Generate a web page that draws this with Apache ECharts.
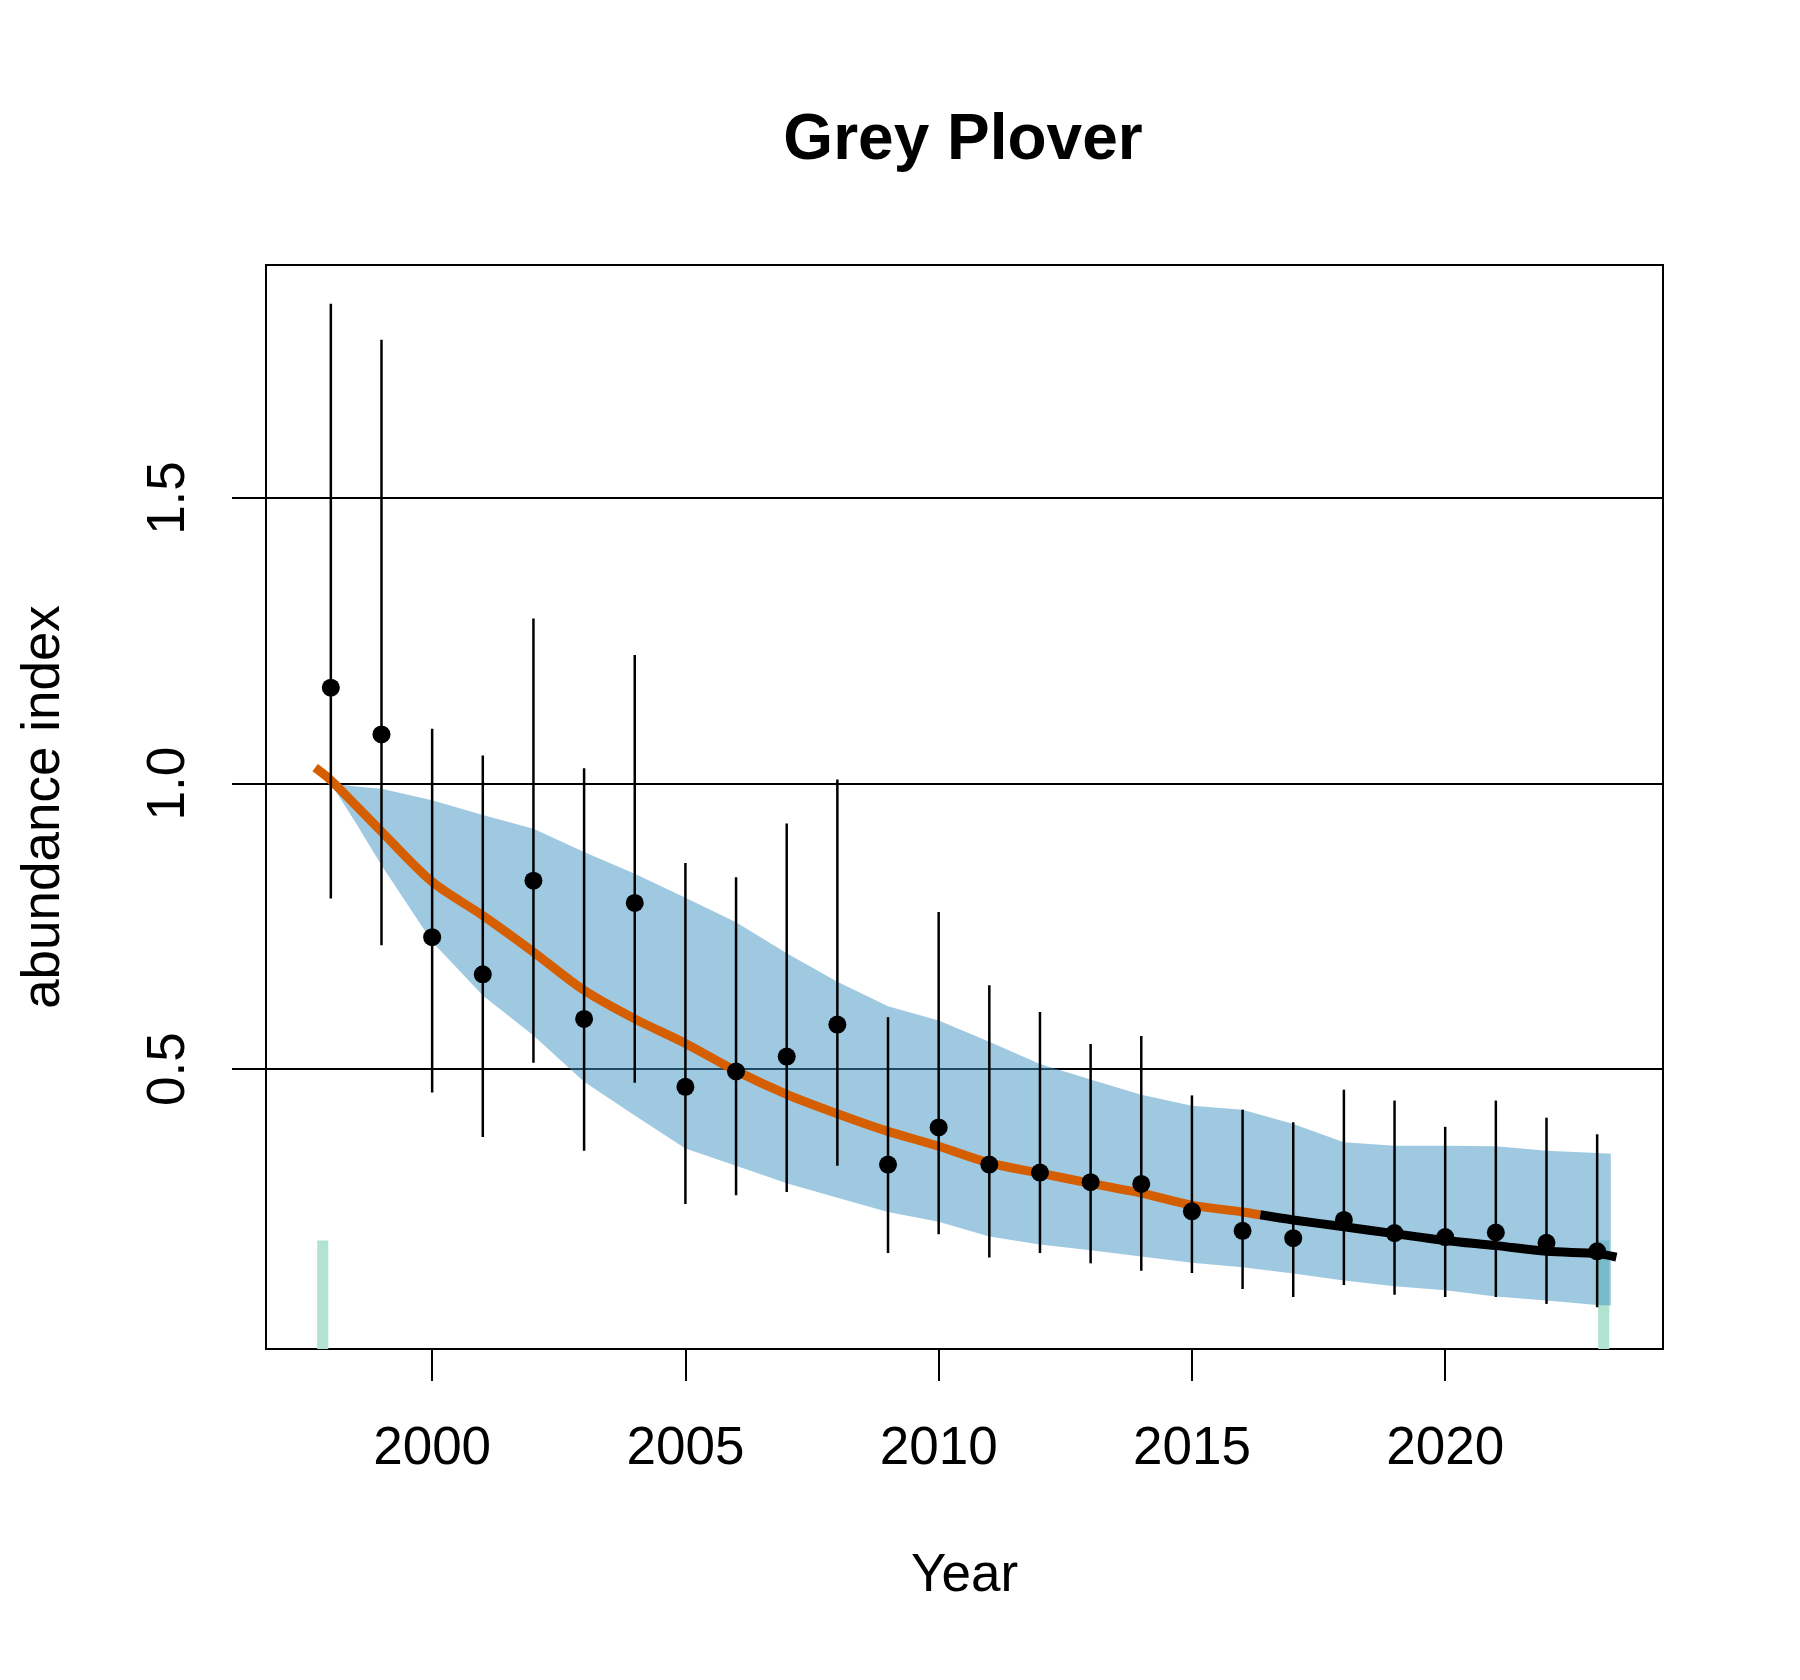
<!DOCTYPE html>
<html>
<head>
<meta charset="utf-8">
<script src="https://cdn.jsdelivr.net/npm/echarts@6/dist/echarts.min.js"></script>
<style>
  html, body { margin: 0; padding: 0; background: #fff; }
  #chart { width: 1800px; height: 1680px; }
</style>
</head>
<body>
<div id="chart"></div>
<script>
// yearly index with confidence limits (black dots + error bars)
const years = [1998, 1999, 2000, 2001, 2002, 2003, 2004, 2005, 2006, 2007, 2008, 2009, 2010,
               2011, 2012, 2013, 2014, 2015, 2016, 2017, 2018, 2019, 2020, 2021, 2022, 2023];
const index = [1.168, 1.086, 0.731, 0.666, 0.830, 0.588, 0.791, 0.469, 0.496, 0.522, 0.578, 0.333, 0.398,
               0.333, 0.319, 0.302, 0.299, 0.251, 0.217, 0.204, 0.236, 0.213, 0.206, 0.214, 0.196, 0.181];
const errLow = [0.799, 0.717, 0.459, 0.381, 0.511, 0.357, 0.476, 0.264, 0.279, 0.285, 0.331, 0.178, 0.211,
                0.170, 0.178, 0.160, 0.147, 0.143, 0.115, 0.101, 0.122, 0.105, 0.101, 0.101, 0.089, 0.083];
const errHigh = [1.840, 1.777, 1.096, 1.049, 1.289, 1.027, 1.225, 0.861, 0.836, 0.930, 1.007, 0.591, 0.775,
                 0.647, 0.600, 0.544, 0.558, 0.454, 0.429, 0.407, 0.464, 0.445, 0.399, 0.445, 0.415, 0.386];

// smoothed trend envelope (blue band)
const bandYears = [1997.72, 1998, 1998.5, 1999, 2000, 2001, 2002, 2003, 2004, 2005, 2006, 2007, 2008, 2009,
                   2010, 2011, 2012, 2013, 2014, 2015, 2016, 2017, 2018, 2019, 2020, 2021, 2022, 2023, 2023.27];
const bandUpper = [1.04, 1.00, 0.995, 0.991, 0.971, 0.945, 0.921, 0.880, 0.842, 0.800, 0.757, 0.703, 0.653, 0.610,
                   0.585, 0.548, 0.509, 0.482, 0.455, 0.436, 0.429, 0.404, 0.372, 0.366, 0.366, 0.365, 0.357, 0.353, 0.352];
const bandLower = [1.04, 1.00, 0.93, 0.857, 0.723, 0.629, 0.559, 0.478, 0.419, 0.361, 0.331, 0.300, 0.275, 0.250,
                   0.233, 0.207, 0.193, 0.183, 0.172, 0.161, 0.153, 0.142, 0.130, 0.120, 0.113, 0.102, 0.095, 0.087, 0.086];

// smoothed trend: orange part, then black part
const trendYearsA = [1997.69, 1998, 1999, 2000, 2001, 2002, 2003, 2004, 2005, 2006, 2007, 2008, 2009,
                     2010, 2011, 2012, 2013, 2014, 2015, 2016, 2016.35];
const trendA = [1.028, 1.006, 0.916, 0.828, 0.769, 0.705, 0.638, 0.588, 0.545, 0.497, 0.456, 0.422, 0.391,
                0.365, 0.336, 0.318, 0.300, 0.283, 0.262, 0.250, 0.245];
const trendYearsB = [2016.35, 2017, 2018, 2019, 2020, 2021, 2022, 2023, 2023.38];
const trendB = [0.245, 0.236, 0.224, 0.212, 0.200, 0.191, 0.181, 0.177, 0.171];

// green markers at both ends
const markYears = [1997.84, 2023.13];
const markHeight = [0.2, 0.2];

const xTicks = [2000, 2005, 2010, 2015, 2020];
const yTicks = [0.5, 1.0, 1.5];

const X_MIN = 1996.72, X_MAX = 2024.30, Y_MIN = 0.01, Y_MAX = 1.908;
const FONT = 'Liberation Sans, Arial, sans-serif';

const chart = echarts.init(document.getElementById('chart'), null, {renderer: 'canvas'});

const option = {
  animation: false,
  backgroundColor: '#fff',
  title: {
    text: 'Grey Plover',
    left: 958,
    textAlign: 'center',
    top: 104,
    textStyle: {fontFamily: FONT, fontSize: 64, fontWeight: 'bold', color: '#000'}
  },
  grid: {
    left: 266, right: 137, top: 265, bottom: 331,
    show: true, borderColor: '#000', borderWidth: 2, backgroundColor: 'transparent'
  },
  xAxis: {
    type: 'value', min: X_MIN, max: X_MAX,
    axisLine: {show: false},
    splitLine: {show: false},
    axisTick: {show: true, customValues: xTicks, length: 32, lineStyle: {color: '#000', width: 2}},
    axisLabel: {customValues: xTicks, fontSize: 53, fontFamily: FONT, color: '#000', margin: 74,
                formatter: v => String(v)},
    name: 'Year', nameLocation: 'middle', nameGap: 201,
    nameTextStyle: {fontSize: 53, fontFamily: FONT, color: '#000'}
  },
  yAxis: {
    type: 'value', min: Y_MIN, max: Y_MAX,
    axisLine: {show: false},
    axisTick: {show: true, customValues: yTicks, length: 34, lineStyle: {color: '#000', width: 2}},
    axisLabel: {customValues: yTicks, rotate: 90, fontSize: 53, fontFamily: FONT, color: '#000', margin: 70,
                formatter: v => v.toFixed(1)},
    splitLine: {show: true, lineStyle: {color: '#000', width: 2}},
    name: 'abundance index', nameLocation: 'middle', nameRotate: 90, nameGap: 195,
    nameTextStyle: {fontSize: 53, fontFamily: FONT, color: '#000'}
  },
  series: [
    {
      // green end markers
      type: 'custom',
      z: 1,
      data: markYears.map((y, i) => [y, markHeight[i]]),
      renderItem: function (params, api) {
        const a = api.coord([api.value(0) - 0.11, api.value(1)]);
        const b = api.coord([api.value(0) + 0.11, Y_MIN]);
        return {type: 'rect', shape: {x: a[0], y: a[1], width: b[0] - a[0], height: b[1] - a[1]},
                style: {fill: '#b2e2d0'}};
      }
    },
    {
      // confidence band
      type: 'custom',
      z: 2,
      data: [[bandYears[0], bandUpper[0]]],
      renderItem: function (params, api) {
        const pts = [];
        for (let i = 0; i < bandYears.length; i++) pts.push(api.coord([bandYears[i], bandUpper[i]]));
        for (let i = bandYears.length - 1; i >= 0; i--) pts.push(api.coord([bandYears[i], bandLower[i]]));
        return {type: 'polygon', shape: {points: pts}, style: {fill: 'rgba(61,147,195,0.5)'}};
      }
    },
    {
      type: 'line', z: 3, symbol: 'none', smooth: 0.3,
      data: trendYearsA.map((y, i) => [y, trendA[i]]),
      lineStyle: {color: '#d55e00', width: 9, cap: 'butt'}
    },
    {
      type: 'line', z: 3, symbol: 'none', smooth: 0.3,
      data: trendYearsB.map((y, i) => [y, trendB[i]]),
      lineStyle: {color: '#000', width: 9, cap: 'butt'}
    },
    {
      // error bars
      type: 'custom',
      z: 4,
      data: years.map((y, i) => [y, errLow[i], errHigh[i]]),
      renderItem: function (params, api) {
        const lo = api.coord([api.value(0), api.value(1)]);
        const hi = api.coord([api.value(0), api.value(2)]);
        return {type: 'line', shape: {x1: lo[0], y1: lo[1], x2: hi[0], y2: hi[1]},
                style: {stroke: '#000', lineWidth: 2.5}};
      }
    },
    {
      type: 'scatter', z: 5, symbol: 'circle', symbolSize: 18,
      itemStyle: {color: '#000', opacity: 1},
      data: years.map((y, i) => [y, index[i]])
    }
  ]
};

chart.setOption(option);
</script>
</body>
</html>
